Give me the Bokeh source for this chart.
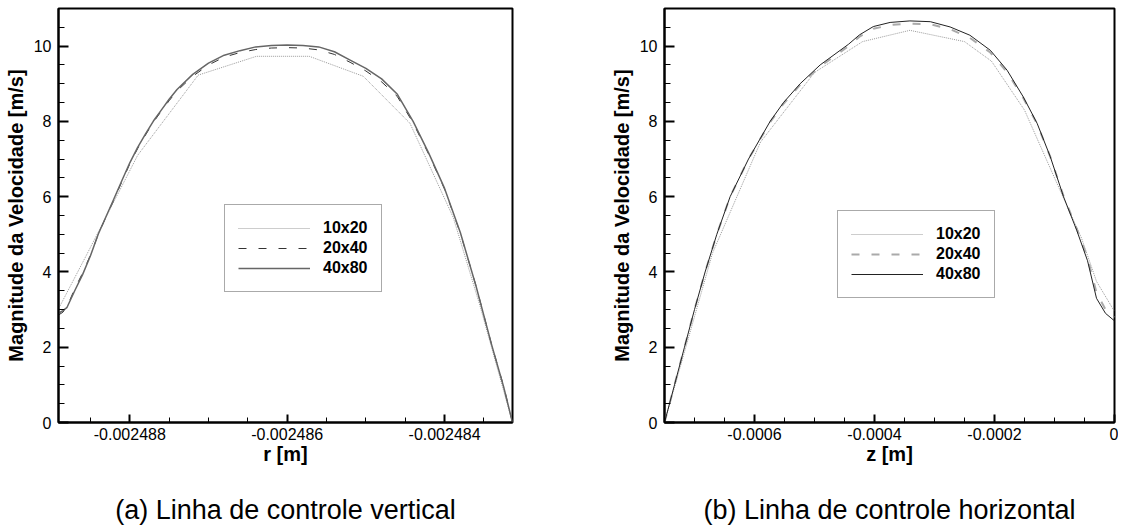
from bokeh.plotting import figure
from bokeh.models import Range1d, FixedTicker, CustomJSTickFormatter, Legend, LegendItem, Title
from bokeh.layouts import row
from bokeh.embed import file_html
from bokeh.resources import INLINE
import numpy as np

FONT = "Liberation Sans"

# ---------------- (a) vertical control line ----------------
r_fine = [-0.002488911, -0.00248885, -0.0024888, -0.0024887, -0.0024886, -0.0024885,
          -0.0024884, -0.0024883, -0.0024882, -0.0024881, -0.002488, -0.0024879,
          -0.0024878, -0.0024877, -0.0024876, -0.0024875, -0.0024874, -0.0024872,
          -0.002487, -0.0024868, -0.0024866, -0.0024864, -0.0024862, -0.002486,
          -0.0024858, -0.0024856, -0.0024854, -0.0024852, -0.002485, -0.0024848,
          -0.0024846, -0.0024844, -0.0024842, -0.002484, -0.0024838, -0.0024836,
          -0.0024834, -0.00248325, -0.002483137]
v_a_40x80 = [2.90, 2.97, 3.05, 3.5, 3.93, 4.43, 5.01, 5.48, 5.95, 6.43, 6.9, 7.31, 7.67,
             8.01, 8.3, 8.59, 8.85, 9.25, 9.55, 9.76, 9.88, 9.98, 10.02, 10.03, 10.02,
             9.98, 9.85, 9.63, 9.41, 9.13, 8.72, 8.0, 7.15, 6.22, 5.05, 3.62, 2.05, 0.95, 0.0]
v_a_20x40 = [2.85, 2.93, 3.07, 3.55, 3.97, 4.45, 5.0, 5.47, 5.93, 6.4, 6.87, 7.28, 7.64,
             7.98, 8.27, 8.55, 8.81, 9.2, 9.5, 9.71, 9.83, 9.91, 9.95, 9.96, 9.95,
             9.9, 9.78, 9.57, 9.34, 9.05, 8.66, 7.96, 7.12, 6.2, 5.03, 3.63, 2.05, 0.97, 0.0]
r_coarse = [-0.002488911, -0.00248855, -0.0024879, -0.002487131, -0.00248639, -0.00248572,
            -0.002485034, -0.00248444, -0.00248389, -0.00248355, -0.002483137]
v_a_10x20 = [3.0, 4.45, 7.1, 9.23, 9.73, 9.73, 9.2, 7.95, 5.45, 3.1, 0.0]

r_ticks = [-0.002488, -0.002486, -0.002484]

# ---------------- (b) horizontal control line ----------------
z_fine = [-0.00075, -0.0007333, -0.0007167, -0.0007, -0.0006823, -0.0006628, -0.0006406,
          -0.00061, -0.000574, -0.0005517, -0.000524, -0.0004906, -0.0004433, -0.000425,
          -0.000402, -0.000374, -0.000341, -0.000307, -0.000274, -0.000241, -0.000207,
          -0.000179, -0.000152, -0.000129, -0.000107, -0.000085, -0.000063, -0.000045,
          -0.00003, -0.000015, 0.0]
v_b_40x80 = [0.0, 1.0, 2.0, 3.0, 4.0, 5.0, 6.0, 7.0, 8.0, 8.5, 9.0, 9.5, 10.05, 10.3, 10.52,
             10.63, 10.67, 10.65, 10.51, 10.29, 9.89, 9.36, 8.65, 7.95, 7.06, 6.0, 5.11,
             4.3, 3.3, 2.9, 2.7]
v_b_20x40 = [0.0, 1.0, 2.0, 3.0, 4.0, 5.0, 6.0, 7.0, 7.98, 8.47, 8.97, 9.46, 10.0, 10.25,
             10.46, 10.56, 10.6, 10.58, 10.45, 10.22, 9.83, 9.31, 8.62, 7.93, 7.06, 6.02,
             5.15, 4.38, 3.45, 3.0, 2.8]
z_coarse = [-0.00075, -0.00067, -0.00059, -0.0005, -0.00042, -0.000341, -0.00025,
            -0.000205, -0.00015, -0.0001, -0.000055, -0.00003, 0.0]
v_b_10x20 = [0.0, 4.5, 7.45, 9.3, 10.12, 10.42, 10.12, 9.6, 8.3, 6.5, 4.9, 3.75, 2.95]

z_ticks = [-0.0006, -0.0004, -0.0002, 0.0]

y_ticks = [0, 2, 4, 6, 8, 10]
labels = ["10x20", "20x40", "40x80"]


def style(p, xticks, xminor, fmt_code, xlabel, caption, caption_standoff):
    p.xgrid.visible = False
    p.ygrid.visible = False
    p.outline_line_color = "black"
    p.outline_line_width = 2
    p.background_fill_color = "white"
    p.border_fill_color = "white"
    p.xaxis.ticker = FixedTicker(ticks=xticks, minor_ticks=xminor)
    p.yaxis.ticker = FixedTicker(ticks=y_ticks, minor_ticks=list(np.arange(0, 11.01, 0.5)))
    p.xaxis.formatter = CustomJSTickFormatter(code=fmt_code)
    for ax in (p.xaxis[0], p.yaxis[0]):
        ax.axis_line_width = 2
        ax.axis_line_color = "black"
        ax.major_tick_line_width = 2
        ax.minor_tick_line_width = 1
        ax.major_tick_out = 0
        ax.minor_tick_out = 0
        ax.major_label_text_font = FONT
        ax.major_label_text_font_size = "16px"
        ax.major_label_text_color = "black"
        ax.axis_label_text_font = FONT
        ax.axis_label_text_font_size = "20px"
        ax.axis_label_text_font_style = "bold"
        ax.axis_label_text_color = "black"
    p.xaxis.major_tick_in = 8
    p.xaxis.minor_tick_in = 5
    p.yaxis.major_tick_in = 10
    p.yaxis.minor_tick_in = 6
    p.xaxis.major_label_standoff = 5
    p.yaxis.major_label_standoff = 7
    p.xaxis.axis_label_standoff = 0
    p.yaxis.axis_label_standoff = 4
    p.xaxis.axis_label = xlabel
    p.yaxis.axis_label = "Magnitude da Velocidade [m/s]"
    t = Title(text=caption, align="center", text_font=FONT, text_font_size="27px",
              text_font_style="normal", text_color="black", standoff=caption_standoff)
    p.add_layout(t, "below")


def add_curves(p, xc, yc, xf, yf2, yf4, styles, loc):
    r1 = p.line(xc, yc, **styles[0])
    r2 = p.line(xf, yf2, **styles[1])
    r3 = p.line(xf, yf4, **styles[2])
    leg = Legend(items=[LegendItem(label=labels[0], renderers=[r1]),
                        LegendItem(label=labels[1], renderers=[r2]),
                        LegendItem(label=labels[2], renderers=[r3])],
                 location=loc, orientation="vertical",
                 label_text_font=FONT, label_text_font_size="16px",
                 label_text_font_style="bold", label_text_color="black",
                 glyph_width=72, glyph_height=20, label_height=20, label_standoff=13,
                 spacing=0, padding=13, margin=0,
                 border_line_color="#555555", border_line_width=1,
                 background_fill_color="white", background_fill_alpha=1.0)
    p.add_layout(leg, "center")


# left figure
p1 = figure(frame_width=454, frame_height=414, min_border_left=58, min_border_right=74,
            min_border_top=8, min_border_bottom=108, output_backend="svg",
            toolbar_location=None, title=None,
            x_range=Range1d(-0.002488906, -0.002483137), y_range=Range1d(0, 11))
style(p1, r_ticks, list(np.arange(-0.0024885, -0.002483, 0.0000005)),
      "return tick.toFixed(6);", "r [m]", "(a) Linha de controle vertical", 50)
add_curves(p1, r_coarse, v_a_10x20, r_fine, v_a_20x40, v_a_40x80,
           [dict(line_color="#9a9a9a", line_width=1, line_dash="1 1"),
            dict(line_color="#333333", line_width=1, line_dash="8 12"),
            dict(line_color="#666666", line_width=1.5)],
           (166, 130))

# right figure
p2 = figure(frame_width=450, frame_height=414, min_border_left=78, min_border_right=4,
            min_border_top=8, min_border_bottom=108, output_backend="svg",
            toolbar_location=None, title=None,
            x_range=Range1d(-0.00075, 0.0), y_range=Range1d(0, 11))
style(p2, z_ticks, list(np.arange(-0.0007, 0.00001, 0.00005)),
      "return Math.abs(tick) < 1e-12 ? '0' : tick.toFixed(4);", "z [m]",
      "(b) Linha de controle horizontal", 50)
add_curves(p2, z_coarse, v_b_10x20, z_fine, v_b_20x40, v_b_40x80,
           [dict(line_color="#9a9a9a", line_width=1, line_dash="1 1"),
            dict(line_color="#aaaaaa", line_width=2, line_dash="8 12"),
            dict(line_color="#222222", line_width=1)],
           (173, 124))

layout = row(p1, p2, spacing=0)
open("out.html", "w").write(file_html(layout, INLINE))
